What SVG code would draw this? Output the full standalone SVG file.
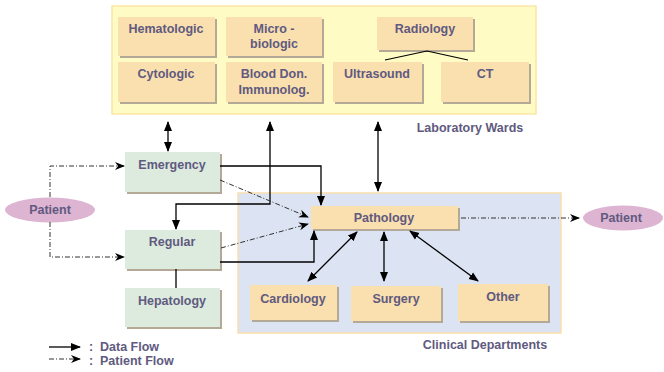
<svg xmlns="http://www.w3.org/2000/svg" width="664" height="372" viewBox="0 0 664 372">
<defs>
<marker id="ah" markerUnits="userSpaceOnUse" markerWidth="10" markerHeight="10" refX="9" refY="4" orient="auto-start-reverse" viewBox="0 0 10 8">
<path d="M0,0 L10,4 L0,8 z" fill="#000"/>
</marker>
<marker id="ahd" markerUnits="userSpaceOnUse" markerWidth="10" markerHeight="10" refX="9" refY="4" orient="auto" viewBox="0 0 10 8">
<path d="M0,0 L10,4 L0,8 L3,4 z" fill="#000"/>
</marker>
</defs>
<style>
text{font-family:"Liberation Sans",Arial,sans-serif;font-weight:bold;font-size:12.5px;fill:#605A80;text-anchor:middle}
.sh{fill:#B4A896}
.lab{fill:#FADFAF}
.grn{fill:#DDEBDF}
.ell{fill:#DDB4D2}
.dl{fill:none;stroke:#000;stroke-width:1.3}
.pl{fill:none;stroke:#333;stroke-width:1;stroke-dasharray:5,2,1,2}
.cap{text-anchor:start}
</style>
<rect x="112" y="6" width="424" height="108" fill="#FFFBC4" stroke="#FCE6A6" stroke-width="1.5"/>
<rect x="238" y="193" width="323" height="140" fill="#DCE4F4" stroke="#F9DFAE" stroke-width="1.5"/>
<text x="470" y="132">Laboratory Wards</text>
<text x="485" y="349">Clinical Departments</text>
<g id="hematologic"><rect class="sh" x="120" y="19" width="97" height="39"/><rect class="lab" x="118" y="17" width="97" height="39"/><text x="166" y="33">Hematologic</text></g>
<g id="microbiologic"><rect class="sh" x="228" y="19" width="96" height="39"/><rect class="lab" x="226" y="17" width="96" height="39"/><text x="274" y="33">Micro -</text><text x="274" y="48">biologic</text></g>
<g id="radiology"><rect class="sh" x="379" y="19" width="96" height="33"/><rect class="lab" x="377" y="17" width="96" height="33"/><text x="425" y="33">Radiology</text></g>
<g id="cytologic"><rect class="sh" x="120" y="64" width="97" height="40"/><rect class="lab" x="118" y="62" width="97" height="40"/><text x="166" y="78">Cytologic</text></g>
<g id="blooddon"><rect class="sh" x="228" y="64" width="96" height="40"/><rect class="lab" x="226" y="62" width="96" height="40"/><text x="274" y="78">Blood Don.</text><text x="274" y="94">Immunolog.</text></g>
<g id="ultrasound"><rect class="sh" x="335" y="64" width="89" height="40"/><rect class="lab" x="333" y="62" width="89" height="40"/><text x="377" y="78">Ultrasound</text></g>
<g id="ct"><rect class="sh" x="443" y="64" width="88" height="40"/><rect class="lab" x="441" y="62" width="88" height="40"/><text x="485" y="78">CT</text></g>
<g id="emergency"><rect class="sh" x="127" y="154" width="95" height="40"/><rect class="grn" x="125" y="152" width="95" height="40"/><text x="172" y="169">Emergency</text></g>
<g id="regular"><rect class="sh" x="127" y="232" width="95" height="39"/><rect class="grn" x="125" y="230" width="95" height="39"/><text x="172" y="246">Regular</text></g>
<g id="hepatology"><rect class="sh" x="127" y="290" width="95" height="39"/><rect class="grn" x="125" y="288" width="95" height="39"/><text x="172" y="305">Hepatology</text></g>
<g id="patient-left"><ellipse class="ell" cx="50" cy="210" rx="45" ry="12.5"/><text x="50" y="214">Patient</text></g>
<g id="patient-right"><ellipse class="ell" cx="623" cy="218" rx="40" ry="12.5"/><text x="621" y="222">Patient</text></g>
<g id="pathology"><rect class="sh" x="313" y="208" width="147" height="23"/><rect class="lab" x="311" y="206" width="147" height="23"/><text x="384" y="222">Pathology</text></g>
<g id="cardiology"><rect class="sh" x="252" y="287" width="87" height="35"/><rect class="lab" x="250" y="285" width="87" height="35"/><text x="293" y="303">Cardiology</text></g>
<g id="surgery"><rect class="sh" x="353" y="288" width="90" height="35"/><rect class="lab" x="351" y="286" width="90" height="35"/><text x="396" y="303">Surgery</text></g>
<g id="other"><rect class="sh" x="460" y="286" width="90" height="37"/><rect class="lab" x="458" y="284" width="90" height="37"/><text x="503" y="301">Other</text></g>
<g id="connectors">
<path d="M427,51 L385,60 M427,51 L468,60" fill="none" stroke="#000" stroke-width="1.2"/>
<path class="dl" d="M168,122 V151" marker-start="url(#ah)" marker-end="url(#ah)"/>
<path class="dl" d="M270,122 V204 H176 V229" marker-start="url(#ah)" marker-end="url(#ah)"/>
<path class="dl" d="M378,122 V191" marker-start="url(#ah)" marker-end="url(#ah)"/>
<path class="dl" d="M220,166 H321 V205" marker-end="url(#ah)"/>
<path class="dl" d="M220,262 H314 V231" marker-end="url(#ah)"/>
<path class="dl" d="M176,269 V288"/>
<path class="dl" d="M357,232 L308,281" marker-start="url(#ah)" marker-end="url(#ah)"/>
<path class="dl" d="M384,232 V281" marker-start="url(#ah)" marker-end="url(#ah)"/>
<path class="dl" d="M410,231 L478,281" marker-start="url(#ah)" marker-end="url(#ah)"/>
<path class="pl" d="M220,180 L308,217" marker-end="url(#ahd)"/>
<path class="pl" d="M221,248 L308,224" marker-end="url(#ahd)"/>
<path class="pl" d="M461,218 H579" marker-end="url(#ahd)"/>
<path class="pl" d="M50,197 V166 H124" marker-end="url(#ahd)"/>
<path class="pl" d="M50,222 V257 H124" marker-end="url(#ahd)"/>
<path class="dl" d="M49,347 H80" marker-end="url(#ah)"/>
<path class="pl" d="M49,359 H80" marker-end="url(#ahd)"/>
</g>
<text class="cap" x="89" y="351">:</text>
<text class="cap" x="100" y="351">Data Flow</text>
<text class="cap" x="89" y="365">:</text>
<text class="cap" x="100" y="365">Patient Flow</text>
</svg>
